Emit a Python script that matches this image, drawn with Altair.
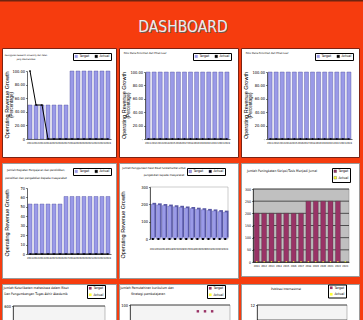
import altair as alt
import pandas as pd

# ---------------- data ----------------
years = ["2011", "2012", "2013", "2014", "2015", "2016", "2017",
         "2018", "2019", "2020", "2021", "2022", "2023", "2024"]
years6 = ["2011", "2012", "2013", "2014", "2015", "2016", "2017",
          "2018", "2019", "2020", "2021", "2022", "2023"]

p1_target = [50, 50, 50, 50, 50, 50, 50, 100, 100, 100, 100, 100, 100, 100]
p1_actual = [100, 50, 50, 0, 0, 0, 0, 0, 0, 0, 0, 0, 0, 0]
p2_target = [100, 100, 100, 100, 100, 100, 100, 100, 100, 100, 100, 100, 100, 100]
p2_actual = [0, 0, 0, 0, 0, 0, 0, 0, 0, 0, 0, 0, 0, 0]
p3_target = [100, 100, 100, 100, 100, 100, 100, 100, 100, 100, 100, 100, 100, 100]
p3_actual = [0, 0, 0, 0, 0, 0, 0, 0, 0, 0, 0, 0, 0, 0]
p4_target = [53, 53, 53, 53, 53, 53, 61, 61, 61, 61, 61, 61, 61, 61]
p4_actual = [0, 0, 0, 0, 0, 0, 0, 0, 0, 0, 0, 0, 0, 0]
p5_target = [200, 197, 193, 190, 186, 183, 179, 176, 172, 169, 165, 162, 158, 155]
p5_actual = [0, 0, 0, 0, 0, 0, 0, 0, 0, 0, 0, 0, 0, 0]
p6_target = [200, 200, 200, 200, 200, 200, 200, 250, 250, 250, 250, 250, None]
p6_actual = [0, 0, 0, 0, 0, 0, 0, 0, 0, 0, 0, 0, 0]
p7_target = [None, None, None, None, None, None, None, None, None, None, None, None, None, None]
p8_target = [None, None, None, None, None, None, None, None, None, 93, 93, 93, None, None]
p9_target = [None, None, None, None, None, None, None, None, None, None, None, None, None, None]

p1_ticks = [0, 20, 40, 60, 80, 100]
p4_ticks = [0, 10, 20, 30, 40, 50, 60, 70]
p5_ticks = [0, 100, 200, 300]
p6_ticks = [0, 50, 100, 150, 200, 250, 300]
p7_grid = [0, 100, 200, 300, 400, 500, 600]
p8_grid = [0, 20, 40, 60, 80, 100]
p9_grid = [0, 2, 4, 6, 8, 10, 12]
p7_labels = [600]   # only the top of the bottom row is visible
p8_labels = [100]
p9_labels = [12]

series = ["Target", "Actual"]
ytitle = "Operating Revenue Growth"
ytitle2 = "(Percentage)"
titles = {
    "p1": ["Keunggulan Research University dari Paten", "yang dikomersilkan"],
    "p2": ["Porsi Dana Penelitian dari Pihak Luar"],
    "p3": ["Porsi Dana Penelitian dari Pihak Luar"],
    "p4": ["Jumlah Kegiatan Pengajaran dan pendidikan,",
           "penelitian dan pengabdian kepada masyarakat"],
    "p5": ["Jumlah Penggunaan hasil Riset fundamental untuk",
           "pengabdian kepada masyarakat"],
    "p6": ["Jumlah Peningkatan Skripsi/Tesis Menjadi Jurnal"],
    "p7": ["Jumlah Keterlibatan mahasiswa dalam Riset",
           "Dan Pengembangan Tugas Akhir Akademik"],
    "p8": ["Jumlah Pemutahiran kurikulum dan", "Strategi pembelajaran"],
    "p9": ["Publikasi Internasional"],
}

# ---------------- style ----------------
CW, CH = 363, 320
RED = "#f63c0e"
FN = "Liberation Sans Narrow, DejaVu Sans Condensed, Liberation Sans, Arial, sans-serif"
FR = "Liberation Sans, Arial, sans-serif"
PURPLE = "#9a9ae8"
PURPLE_EDGE = "#4b4b9a"
MAROON = "#993366"
YELLOW = "#ffff33"
BORDER1 = "#7b2314"
BORDER2 = "#9a9a9a"


def frame(vals, s, cats=years):
    return pd.DataFrame({"year": cats, "value": vals, "series": s})


def rect_px(x0, x1, y0, y1, **kw):
    return alt.Chart(alt.Data(values=[{}])).mark_rect(**kw).encode(
        x=alt.value(x0), x2=alt.value(x1), y=alt.value(y0), y2=alt.value(y1))


def text_px(txt, x, y, size=3.5, angle=0, color="black", font=FN,
            baseline="middle", align="center"):
    return alt.Chart(alt.Data(values=[{}])).mark_text(
        text=txt, fontSize=size, angle=angle, color=color, font=font,
        baseline=baseline, align=align).encode(x=alt.value(x), y=alt.value(y))


class Geo:
    """panel placed at (ox, oy) with size PW x PH; plot area at local (L, T), size W x H"""
    def __init__(self, ox, oy, PW, PH, L, T, W, H):
        self.ox, self.oy = ox, oy
        self.PW, self.PH, self.L, self.T, self.W, self.H = PW, PH, L, T, W, H

    def X(self, x):
        return self.ox + x

    def Y(self, y):
        return self.oy + y

    def rect(self, x0, x1, y0, y1, **kw):
        return rect_px(self.X(x0), self.X(x1), self.Y(y0), self.Y(y1), **kw)

    def text(self, txt, x, y, **kw):
        return text_px(txt, self.X(x), self.Y(y), **kw)


def panel(g, border, layers):
    bg = g.rect(0.5, g.PW - 0.5, 0.5, g.PH - 0.5, fill="white", stroke=border, strokeWidth=1)
    return alt.layer(bg, *layers)


def xenc(g, cats=years, size=2.6, show=True, drop=0, domain=True):
    axis = None
    if show:
        axis = alt.Axis(orient="bottom", labelFontSize=size, labelAngle=0, ticks=False,
                        labelOverlap=False, labelPadding=2.5 + drop, domain=domain, zindex=2,
                        offset=g.Y(g.T + g.H) - CH)
    return alt.X("year:N", sort=cats, title=None,
                 scale=alt.Scale(domain=cats, range=[g.X(g.L), g.X(g.L + g.W)],
                                 paddingInner=0.33, paddingOuter=0.17),
                 axis=axis)


def yenc(g, dom, ticks, expr=None, size=4, domain=True, show=True):
    axis = None
    if show:
        ax = dict(orient="left", values=ticks, labelFontSize=size, tickSize=1.5, labelPadding=1,
                  offset=-g.X(g.L), domain=domain, zindex=2)
        if expr:
            ax["labelExpr"] = expr
        axis = alt.Axis(**ax)
    return alt.Y("value:Q", title=None,
                 scale=alt.Scale(domain=dom, range=[g.Y(g.T + g.H), g.Y(g.T)], nice=False, zero=False),
                 axis=axis)


def legend(g, x, y, direction="horizontal"):
    return alt.Legend(orient="none", legendX=g.X(x), legendY=g.Y(y), direction=direction,
                      title=None, strokeColor="black", fillColor="white",
                      padding=1.5, labelFontSize=3.5, labelFont=FN, symbolSize=7,
                      symbolType="square", columnPadding=4, rowPadding=1.5,
                      labelOffset=1.5, symbolStrokeWidth=0.3, labelLimit=40, zindex=3)


def color(c1, c2, lg):
    return alt.Color("series:N", scale=alt.Scale(domain=series, range=[c1, c2]), legend=lg)


def bar_line_panel(g, border, tgt, act, dom, ticks, expr, extra, lg_xy):
    lg = legend(g, *lg_xy)
    bars = alt.Chart(frame(tgt, "Target")).mark_bar(stroke=PURPLE_EDGE, strokeWidth=0.4).encode(
        x=xenc(g), y=yenc(g, dom, ticks, expr), color=color(PURPLE, "black", lg))
    line = alt.Chart(frame(act, "Actual")).mark_line(
        strokeWidth=1, point=alt.OverlayMarkDef(shape="diamond", size=5, filled=True)).encode(
        x=xenc(g), y=yenc(g, dom, ticks, expr), color=color(PURPLE, "black", lg))
    return panel(g, border, extra + [bars, line])


# ---------------- header ----------------
header = alt.layer(
    rect_px(0, CW, 0, 1.6, fill="#6e2410"),
    text_px("DASHBOARD", 183.7, 32.6, size=15.5, color="#6a5a55", baseline="alphabetic"),
    text_px("DASHBOARD", 183, 32, size=15.5, color="#ececec", baseline="alphabetic"),
)

# ---------------- row 1 ----------------
g1 = Geo(2, 48, 115, 110, 25, 23, 84, 68)
p1 = bar_line_panel(
    g1, BORDER1, p1_target, p1_actual, [0, 100], p1_ticks,
    "datum.value == 0 ? '0' : format(datum.value, '.2f')",
    [g1.text(titles["p1"][0], 24, 7, size=2.2), g1.text(titles["p1"][1], 24, 11, size=2.2),
     g1.text(ytitle, 5, 57, size=5.5, angle=270, font=FR),
     g1.text(ytitle2, 9.5, 57, size=4.5, angle=270, font=FR)],
    (71, 5))

g2 = Geo(119, 48, 120, 110, 26, 24, 85, 67)
p2 = bar_line_panel(
    g2, BORDER1, p2_target, p2_actual, [0, 100], p1_ticks,
    "datum.value == 0 ? '-' : format(datum.value, '.2f')",
    [g2.text(titles["p2"][0], 26, 5.5, size=2.6),
     g2.text(ytitle, 5, 57.5, size=5.5, angle=270, font=FR),
     g2.text(ytitle2, 9.5, 57.5, size=4.5, angle=270, font=FR)],
    (74, 5))

g3 = Geo(241, 48, 119, 110, 26, 24, 85, 67)
p3 = bar_line_panel(
    g3, BORDER1, p3_target, p3_actual, [0, 100], p1_ticks,
    "datum.value == 0 ? '-' : format(datum.value, '.2f')",
    [g3.text(titles["p3"][0], 26, 5.5, size=2.6),
     g3.text(ytitle, 5, 57.5, size=5.5, angle=270, font=FR),
     g3.text(ytitle2, 9.5, 57.5, size=4.5, angle=270, font=FR)],
    (74, 5))

# ---------------- row 2 ----------------
g4 = Geo(2, 163, 115, 116, 25, 25, 84, 66)
p4 = bar_line_panel(
    g4, BORDER2, p4_target, p4_actual, [0, 70], p4_ticks, None,
    [g4.text(titles["p4"][0], 34, 7, size=2.9), g4.text(titles["p4"][1], 34, 15, size=2.9),
     g4.text(ytitle, 5, 60, size=5.5, angle=270, font=FR)],
    (71, 5))

# panel 5: pseudo 3D bars
g5 = Geo(119, 163, 120, 116, 31, 24, 78, 52)
lg5 = legend(g5, 68, 5)
p5_depth = alt.Chart(frame(p5_target, "Target")).mark_bar(
    color="#5a5aa6", xOffset=1.5, yOffset=-1.5).encode(
    x=xenc(g5, drop=6, domain=False), y=yenc(g5, [0, 300], p5_ticks))
p5_bars = alt.Chart(frame(p5_target, "Target")).mark_bar(
    stroke=PURPLE_EDGE, strokeWidth=0.3).encode(
    x=xenc(g5, drop=6, domain=False), y=yenc(g5, [0, 300], p5_ticks),
    color=color(PURPLE, "black", lg5))
p5_act = alt.Chart(frame(p5_actual, "Actual")).mark_square(size=4, opacity=1).encode(
    x=xenc(g5, drop=6, domain=False), y=yenc(g5, [0, 300], p5_ticks),
    color=color(PURPLE, "black", lg5))
p5 = panel(g5, BORDER2, [
    g5.rect(31, 109, 24, 76, fill="none", stroke="#9a9a9a", strokeWidth=0.5),
    g5.text(titles["p5"][0], 35, 5, size=2.8),
    g5.text(titles["p5"][1], 45, 12, size=2.8),
    g5.text(ytitle, 4, 62, size=5.5, angle=270, font=FR),
    p5_depth, p5_bars, p5_act])

# panel 6: excel-2003 style
g6 = Geo(241, 163, 119, 114, 12, 26, 96, 73)
lg6 = legend(g6, 91, 5, "vertical")
grid6 = alt.Chart(pd.DataFrame({"value": p6_ticks})).mark_rule(color="black", strokeWidth=0.6).encode(
    x=alt.value(g6.X(12)), x2=alt.value(g6.X(108)), y=yenc(g6, [0, 300], p6_ticks, size=3.5))
p6_bars = alt.Chart(frame(p6_target, "Target", years6)).mark_bar(stroke="#333", strokeWidth=0.3).encode(
    x=xenc(g6, years6), y=yenc(g6, [0, 300], p6_ticks, size=3.5),
    color=color(MAROON, YELLOW, lg6))
p6_act = alt.Chart(frame(p6_actual, "Actual", years6)).mark_point(
    shape="diamond", size=4, filled=True, opacity=1).encode(
    x=xenc(g6, years6), y=yenc(g6, [0, 300], p6_ticks, size=3.5),
    color=color(MAROON, YELLOW, lg6))
p6 = panel(g6, BORDER2, [
    g6.rect(12, 108, 26, 99, fill="#c0c0c0", stroke="#808080", strokeWidth=0.5),
    g6.text(titles["p6"][0], 41, 8, size=3.3),
    grid6, p6_bars, p6_act])


# ---------------- row 3 (cut off by the bottom edge) ----------------
def excel_panel(g, tlayers, lg_xy, dom, grid_ticks, label_ticks, tgt):
    lg = legend(g, lg_xy[0], lg_xy[1], "vertical")
    grid = alt.Chart(pd.DataFrame({"value": grid_ticks})).mark_rule(color="black", strokeWidth=0.6).encode(
        x=alt.value(g.X(g.L)), x2=alt.value(g.X(g.L + g.W)), y=yenc(g, dom, label_ticks))
    tg = alt.Chart(frame(tgt, "Target")).mark_square(size=6, opacity=1).encode(
        x=xenc(g, show=False), y=yenc(g, dom, label_ticks), color=color(MAROON, YELLOW, lg))
    ac = alt.Chart(frame(p5_actual, "Actual")).mark_point(
        shape="diamond", size=4, filled=True, opacity=1).encode(
        x=xenc(g, show=False), y=yenc(g, dom, label_ticks), color=color(MAROON, YELLOW, lg))
    return panel(g, BORDER2, [
        g.rect(g.L, g.L + g.W, g.T, g.T + g.H, fill="#f4f4f4", stroke="#808080", strokeWidth=0.5)] +
        tlayers + [grid, tg, ac])


g7 = Geo(2, 284, 115, 130, 11, 22, 92, 90)
p7 = excel_panel(g7, [g7.text(titles["p7"][0], 34, 4, size=3.3),
                      g7.text(titles["p7"][1], 34, 10, size=3.3)],
                 (85, 1), [0, 600], p7_grid, p7_labels, p7_target)
g8 = Geo(119, 284, 120, 130, 11, 21, 100, 90)
p8 = excel_panel(g8, [g8.text(titles["p8"][0], 28, 4, size=3.4),
                      g8.text(titles["p8"][1], 29, 10, size=3.4)],
                 (88, 1), [0, 100], p8_grid, p8_labels, p8_target)
g9 = Geo(241, 284, 119, 130, 16, 21, 90, 90)
p9 = excel_panel(g9, [g9.text(titles["p9"][0], 45, 4.5, size=3)],
                 (87, 0.5), [0, 12], p9_grid, p9_labels, p9_target)

chart = alt.layer(header, p1, p2, p3, p4, p5, p6, p7, p8, p9).resolve_scale(
    x="independent", y="independent", color="independent"
).resolve_axis(x="independent", y="independent").resolve_legend(color="independent").properties(
    width=CW, height=CH, padding=0, background=RED,
    autosize=alt.AutoSizeParams(type="none")
).configure_view(stroke=None).configure_axis(
    labelFont=FN, labelColor="black", domainColor="black", domainWidth=0.6,
    tickColor="black", tickWidth=0.5, grid=False
).configure_legend(labelColor="black")

chart.save("out.html", embed_options={"renderer": "svg", "actions": False})
